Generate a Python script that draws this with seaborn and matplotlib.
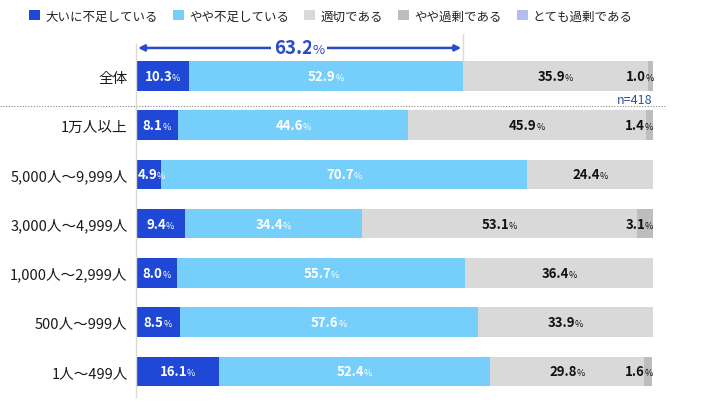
import numpy as np
import matplotlib
matplotlib.use("Agg")
from matplotlib import pyplot as plt
from matplotlib.patches import Patch
import seaborn as sns

categories = ["全体", "1万人以上", "5,000人～9,999人", "3,000人～4,999人",
              "1,000人～2,999人", "500人～999人", "1人～499人"]
series_names = ["大いに不足している", "やや不足している", "適切である", "やや過剰である", "とても過剰である"]
very_short = [10.3, 8.1, 4.9, 9.4, 8.0, 8.5, 16.1]
some_short = [52.9, 44.6, 70.7, 34.4, 55.7, 57.6, 52.4]
adequate = [35.9, 45.9, 24.4, 53.1, 36.4, 33.9, 29.8]
some_excess = [1.0, 1.4, 0.0, 3.1, 0.0, 0.0, 1.6]
very_excess = [0.0, 0.0, 0.0, 0.0, 0.0, 0.0, 0.0]
shortage_total = 63.2
sample_note = "n=418"

colors = ["#1f48d6", "#76cffa", "#d9d9d9", "#bdbdbd", "#b3bdf0"]
label_colors = ["white", "white", "#111111", "#111111", "#111111"]

sns.set_theme(style="white")
plt.rcParams["font.family"] = ["Noto Sans CJK JP", "DejaVu Sans"]

fig = plt.figure(figsize=(7.28, 4.02), dpi=100)
W, H = 728, 402
ax = fig.add_axes([136 / W, 1 - 398 / H, (653 - 136) / W, (398 - 45) / H])

series = np.array([very_short, some_short, adequate, some_excess, very_excess])
cum = np.cumsum(series, axis=0)

# stacked look: draw cumulative totals from the outside in
for i in range(len(series) - 1, -1, -1):
    sns.barplot(x=cum[i], y=categories, color=colors[i], width=0.6,
                orient="h", ax=ax, saturation=1, linewidth=0)

ax.set_xlim(0, 100)
ax.set_ylim(6.52, -0.65)
ax.set_xlabel("")
ax.set_ylabel("")
ax.set_xticks([])
ax.tick_params(axis="y", length=0, pad=6, labelsize=10.5, labelcolor="#1a1a1a")
for s in ["top", "right", "bottom"]:
    ax.spines[s].set_visible(False)
ax.spines["left"].set_color("#d9d9d9")
ax.spines["left"].set_linewidth(1)

renderer = fig.canvas.get_renderer()
NUM_SIZE = 9.5
PCT_SIZE = 6.5
tmp = fig.text(0, 0, "%", fontsize=PCT_SIZE)
pct_w = tmp.get_window_extent(renderer).width * 72 / fig.dpi
tmp.remove()


def pct_label(x, y, value, color, size=NUM_SIZE, psize=PCT_SIZE, pw=pct_w, ha="center"):
    dx = -pw / 2 if ha == "center" else -pw
    t = ax.annotate(f"{value:.1f}", (x, y), xytext=(dx, 0), textcoords="offset points",
                    ha=ha, va="center", fontsize=size, fontweight="bold", color=color,
                    annotation_clip=False)
    ax.annotate("%", xy=(1, 0.08), xycoords=t, xytext=(-0.2, 0), textcoords="offset points",
                ha="left", va="bottom", fontsize=psize, color=color)


for i in range(len(series)):
    for j in range(len(categories)):
        v = series[i, j]
        if v <= 0:
            continue
        left = cum[i, j] - v
        if v < 5 and i >= 2:
            pct_label(cum[i, j] + 0.1, j, v, label_colors[i], ha="right")
        else:
            x = max(left + v / 2, left + 3.0)
            pct_label(x, j, v, label_colors[i])

# arrow summarising the shortage share
arrow_y = -0.57
ax.annotate("", xy=(shortage_total - 0.3, arrow_y), xytext=(0.4, arrow_y),
            arrowprops=dict(arrowstyle="<|-|>", color="#2a4bc8", lw=1.8,
                            mutation_scale=9, shrinkA=0, shrinkB=0),
            annotation_clip=False)
ax.plot([shortage_total, shortage_total], [-0.85, -0.3], color="#d9d9d9", lw=1,
        clip_on=False, zorder=0)
big = ax.annotate(f"{shortage_total:.1f}", (shortage_total / 2, arrow_y), xytext=(-4, 0),
                  textcoords="offset points", ha="center", va="center", fontsize=13.5,
                  fontweight="bold", color="#2a4bc8",
                  bbox=dict(boxstyle="square,pad=0.15", fc="white", ec="none"))
ax.annotate("%", xy=(1, 0.05), xycoords=big, xytext=(-0.5, 0), textcoords="offset points",
            ha="left", va="bottom", fontsize=9.5, color="#2a4bc8",
            bbox=dict(boxstyle="square,pad=0.15", fc="white", ec="none"))

# separator between total and breakdown
ax.axhline(0.61, xmin=-136 / 517, xmax=(665 - 136) / 517, color="#888888", lw=0.8,
           ls=(0, (1, 1.5)), clip_on=False)
ax.text(100, 0.48, sample_note, ha="right", va="center", fontsize=9, color="#2f5597")

handles = [Patch(facecolor=c, edgecolor="none") for c in colors]
fig.legend(handles, series_names, loc="center left", bbox_to_anchor=(29 / W, 1 - 17 / H),
           ncol=5, frameon=False, fontsize=9, handlelength=0.9, handleheight=0.9,
           handletextpad=0.4, columnspacing=1.2, borderaxespad=0, borderpad=0,
           labelcolor="#222222")

fig.savefig("out.png", dpi=100)
